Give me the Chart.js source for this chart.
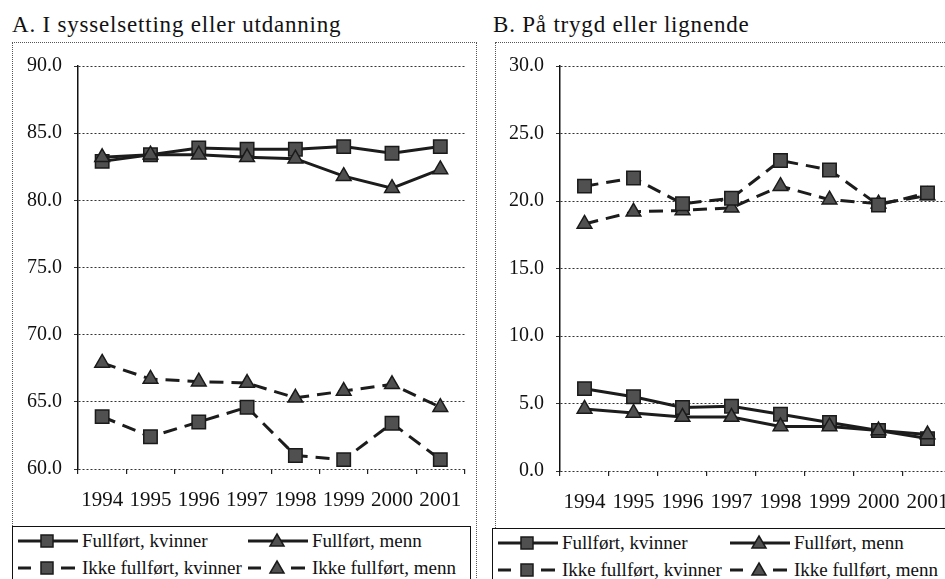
<!DOCTYPE html>
<html>
<head>
<meta charset="utf-8">
<script src="https://cdn.jsdelivr.net/npm/chart.js@4.4.0/dist/chart.umd.min.js"></script>
<style>
body { margin: 0; width: 945px; height: 579px; overflow: hidden; background: #fff; position: relative;
       font-family: "Liberation Serif", "Times New Roman", serif; color: #111; }
.tittel { position: absolute; top: 12px; font-size: 23px; letter-spacing: 0.8px; white-space: nowrap; }
.ramme { position: absolute; top: 42px; height: 600px; border: 1px dotted #555; }
canvas { position: absolute; }
.legende { position: absolute; border: 1.5px solid #111; background: #fff; height: 80px; }
.item { position: absolute; font-size: 19px; white-space: nowrap; display: flex; align-items: center; height: 22px; }
.item canvas { position: static; margin-right: 3px; }
</style>
</head>
<body>

<div class="tittel" style="left:12px">A. I sysselsetting eller utdanning</div>
<div class="ramme" style="left:12px;width:463px"></div>
<canvas id="figurA" width="464" height="484" style="left:12px;top:42px"></canvas>
<div class="legende" id="legendeA" style="left:12px;top:526px;width:457px"></div>

<div class="tittel" style="left:493px">B. På trygd eller lignende</div>
<div class="ramme" style="left:495px;width:600px"></div>
<canvas id="figurB" width="470" height="486" style="left:495px;top:42px"></canvas>
<div class="legende" id="legendeB" style="left:492px;top:528px;width:600px"></div>

<script>
// Data lest av figuren (prosent)
const aar = ['1994', '1995', '1996', '1997', '1998', '1999', '2000', '2001'];

const sysFullfortKvinner = [82.9, 83.4, 83.9, 83.8, 83.8, 84.0, 83.5, 84.0];
const sysFullfortMenn = [83.2, 83.4, 83.4, 83.2, 83.1, 81.8, 80.9, 82.3];
const sysIkkeKvinner = [63.9, 62.4, 63.5, 64.6, 61.0, 60.7, 63.4, 60.7];
const sysIkkeMenn = [67.9, 66.7, 66.5, 66.4, 65.3, 65.8, 66.3, 64.6];

const trygdFullfortKvinner = [6.1, 5.5, 4.7, 4.8, 4.2, 3.6, 3.0, 2.4];
const trygdFullfortMenn = [4.6, 4.3, 4.0, 4.0, 3.3, 3.3, 3.0, 2.7];
const trygdIkkeKvinner = [21.1, 21.7, 19.8, 20.2, 23.0, 22.3, 19.7, 20.6];
const trygdIkkeMenn = [18.3, 19.2, 19.3, 19.5, 21.1, 20.1, 19.8, 20.4];

const serieNavn = ['Fullført, kvinner', 'Fullført, menn', 'Ikke fullført, kvinner', 'Ikke fullført, menn'];

const LINJE = '#1c1c1c';
const MARKOR = '#505050';
const STIPLET = [14, 8];

function lagSerie(navn, data, stiplet, form) {
    return {
        label: navn,
        data: data,
        borderColor: LINJE,
        borderWidth: 3,
        borderDash: stiplet ? STIPLET : [],
        pointStyle: form,
        pointRadius: form === 'rect' ? 9.5 : 8.5,
        pointHoverRadius: form === 'rect' ? 9.5 : 8.5,
        pointBackgroundColor: MARKOR,
        pointBorderColor: '#1a1a1a',
        pointBorderWidth: 1.5,
        tension: 0,
        fill: false
    };
}

function lagFigur(id, serier, yMin, yMax, yBredde, xHoyde, padding) {
    const ctx = document.getElementById(id).getContext('2d');
    return new Chart(ctx, {
        type: 'line',
        data: {
            labels: aar,
            datasets: [
                lagSerie(serieNavn[2], serier[2], true, 'rect'),
                lagSerie(serieNavn[3], serier[3], true, 'triangle'),
                lagSerie(serieNavn[1], serier[1], false, 'triangle'),
                lagSerie(serieNavn[0], serier[0], false, 'rect')
            ]
        },
        options: {
            responsive: false,
            animation: false,
            layout: { padding: padding },
            plugins: { legend: { display: false }, tooltip: { enabled: false } },
            scales: {
                x: {
                    offset: true,
                    grid: { offset: true, drawOnChartArea: false, drawTicks: true, tickLength: 5, color: '#222', lineWidth: 1.2 },
                    border: { display: false },
                    ticks: { color: '#111', padding: 14, maxRotation: 0, autoSkip: false,
                             font: { family: 'Liberation Serif', size: 21 } },
                    afterFit: s => { s.height = xHoyde; }
                },
                y: {
                    min: yMin,
                    max: yMax,
                    grid: { color: '#333', lineWidth: 1, tickLength: 4 },
                    border: { display: true, color: '#111', width: 1.5, dash: [2, 2] },
                    ticks: { stepSize: 5, color: '#111', padding: 12,
                             font: { family: 'Liberation Serif', size: 20 },
                             callback: v => v.toFixed(1) },
                    afterFit: s => { s.width = yBredde; }
                }
            }
        }
    });
}

lagFigur('figurA', [sysFullfortKvinner, sysFullfortMenn, sysIkkeKvinner, sysIkkeMenn],
    60, 90, 66, 57, { top: 16, right: 6, left: 0, bottom: 0 });
lagFigur('figurB', [trygdFullfortKvinner, trygdFullfortMenn, trygdIkkeKvinner, trygdIkkeMenn],
    0, 30, 65, 57, { top: 18, right: 13, left: 0, bottom: 0 });

// Forklaring: liten strek med markør, tegnet på egne små lerret
function tegnProve(stiplet, form) {
    const c = document.createElement('canvas');
    c.width = 62; c.height = 20;
    const g = c.getContext('2d');
    g.strokeStyle = LINJE;
    g.lineWidth = 3;
    if (stiplet) {
        g.beginPath(); g.moveTo(1, 10); g.lineTo(14, 10); g.stroke();
        g.beginPath(); g.moveTo(44, 10); g.lineTo(58, 10); g.stroke();
    } else {
        g.beginPath(); g.moveTo(1, 10); g.lineTo(61, 10); g.stroke();
    }
    g.fillStyle = MARKOR;
    g.strokeStyle = '#1a1a1a';
    g.lineWidth = 1.5;
    g.beginPath();
    if (form === 'rect') {
        g.rect(24, 4, 12, 12);
    } else {
        g.moveTo(30, 3); g.lineTo(37, 15); g.lineTo(23, 15); g.closePath();
    }
    g.fill(); g.stroke();
    return c;
}

function lagLegende(id, kol2) {
    const boks = document.getElementById(id);
    const oppsett = [
        { navn: serieNavn[0], stiplet: false, form: 'rect', x: 4, y: 3 },
        { navn: serieNavn[1], stiplet: false, form: 'triangle', x: kol2, y: 3 },
        { navn: serieNavn[2], stiplet: true, form: 'rect', x: 4, y: 30 },
        { navn: serieNavn[3], stiplet: true, form: 'triangle', x: kol2, y: 30 }
    ];
    oppsett.forEach(o => {
        const el = document.createElement('div');
        el.className = 'item';
        el.style.left = o.x + 'px';
        el.style.top = o.y + 'px';
        el.appendChild(tegnProve(o.stiplet, o.form));
        const t = document.createElement('span');
        t.textContent = o.navn;
        el.appendChild(t);
        boks.appendChild(el);
    });
}

lagLegende('legendeA', 234);
lagLegende('legendeB', 236);
</script>
</body>
</html>
